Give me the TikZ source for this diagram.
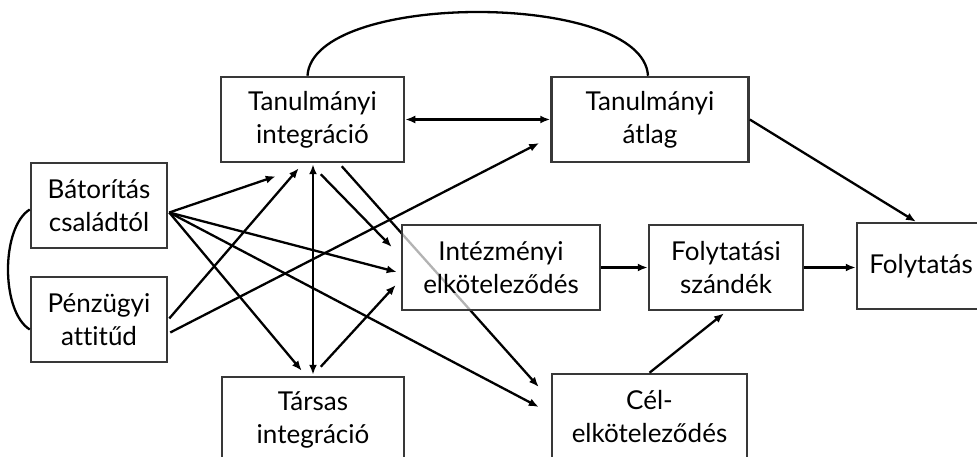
\documentclass[tikz,border=0pt]{standalone}
\usepackage{fontspec}
\setmainfont{Lato}[Ligatures=NoCommon]
\usetikzlibrary{calc,arrows.meta}
\pgfdeclarelayer{front}
\pgfsetlayers{main,front}
\begin{document}
\begin{tikzpicture}[x=1pt,y=-1pt,
  box/.style={draw=black!78, line width=2.5pt, rectangle, align=center,
    inner sep=0pt, font=\fontsize{26}{33}\selectfont, text=black},
  arr/.style={line width=2.3pt, -{Latex[length=10pt,width=8pt]}},
  darr/.style={line width=2.3pt, {Latex[length=10pt,width=8pt]}-{Latex[length=10pt,width=8pt]}},
  link/.style={line width=2.3pt}]
\useasboundingbox (0,0) rectangle (977,457);

% variables
\node[box, minimum width=136pt, minimum height=85pt] (bat) at (99,205.5) {Bátorítás\\családtól};
\node[box, minimum width=136pt, minimum height=85pt] (penz) at (99,319.5) {Pénzügyi\\attitűd};
\node[box, minimum width=183pt, minimum height=85pt] (ti) at (312.5,119.5) {Tanulmányi\\integráció};
\node[box, minimum width=197pt, minimum height=85pt] (ta) at (650,119.5) {Tanulmányi\\átlag};
\node[box, minimum width=182pt, minimum height=85pt] (ts) at (313,419.5) {Társas\\integráció};
\begin{pgfonlayer}{front}
\node[box, minimum width=198pt, minimum height=85pt, fill=white, fill opacity=0.7,
  text opacity=1, draw opacity=1] (ie) at (501,267.5) {Intézményi\\elköteleződés};
\end{pgfonlayer}
\node[box, minimum width=154pt, minimum height=85pt] (fsz) at (726,267.5) {Folytatási\\szándék};
\node[box, minimum width=128pt, minimum height=86pt] (fo) at (921,266) {Folytatás};
\node[box, minimum width=195pt, minimum height=85pt] (cel) at (649.5,416.5) {Cél-\\elköteleződés};

% correlations
\draw[link] ($(ti.north)+(-5,0)$) .. controls +(5,-85) and +(-5,-85) .. ($(ta.north)+(-2,0)$);
\draw[link] ($(bat.west)+(0,4)$) .. controls +(-29,18) and +(-29,-18) .. ($(penz.west)+(0,10)$);

% paths from the background variables
\coordinate (bs) at ($(bat.east)+(1,7)$);
\draw[arr] (bs) -- ($(ti.south west)+(56,13)$);
\draw[arr] (bs) -- ($(ts.north west)+(81,-5)$);
\draw[arr] (bs) -- ($(ie.west)+(-4,4.5)$);
\draw[arr] (bs) -- ($(cel.west)+(-12,-9.5)$);
\draw[arr] ($(penz.east)+(1,-1)$) -- ($(ti.south west)+(79,5)$);
\draw[arr] ($(penz.east)+(2,13)$) -- ($(ta.west)+(-11,23.5)$);

% integration paths
\draw[darr] ($(ti.south)+(0.5,1)$) -- ($(ts.north)+(0,-1)$);
\draw[darr] (ti.east) -- (ta.west);
\draw[arr] ($(ti.south west)+(101,11)$) -- ($(ie.west)+(-9,-20.5)$);
\draw[arr] ($(ti.south west)+(122,3)$) -- ($(cel.west)+(-12,-29.5)$);
\draw[arr] ($(ts.north west)+(100,-9)$) -- ($(ie.west)+(-5,17.5)$);

% outcome paths
\draw[arr] (ie.east) -- (fsz.west);
\draw[arr] (fsz.east) -- (fsz.east -| fo.west);
\draw[arr] (cel.north) -- ($(fsz.south)+(-2,2)$);
\draw[arr] (ta.east) -- ($(fo.north)+(-5,0)$);
\end{tikzpicture}
\end{document}
